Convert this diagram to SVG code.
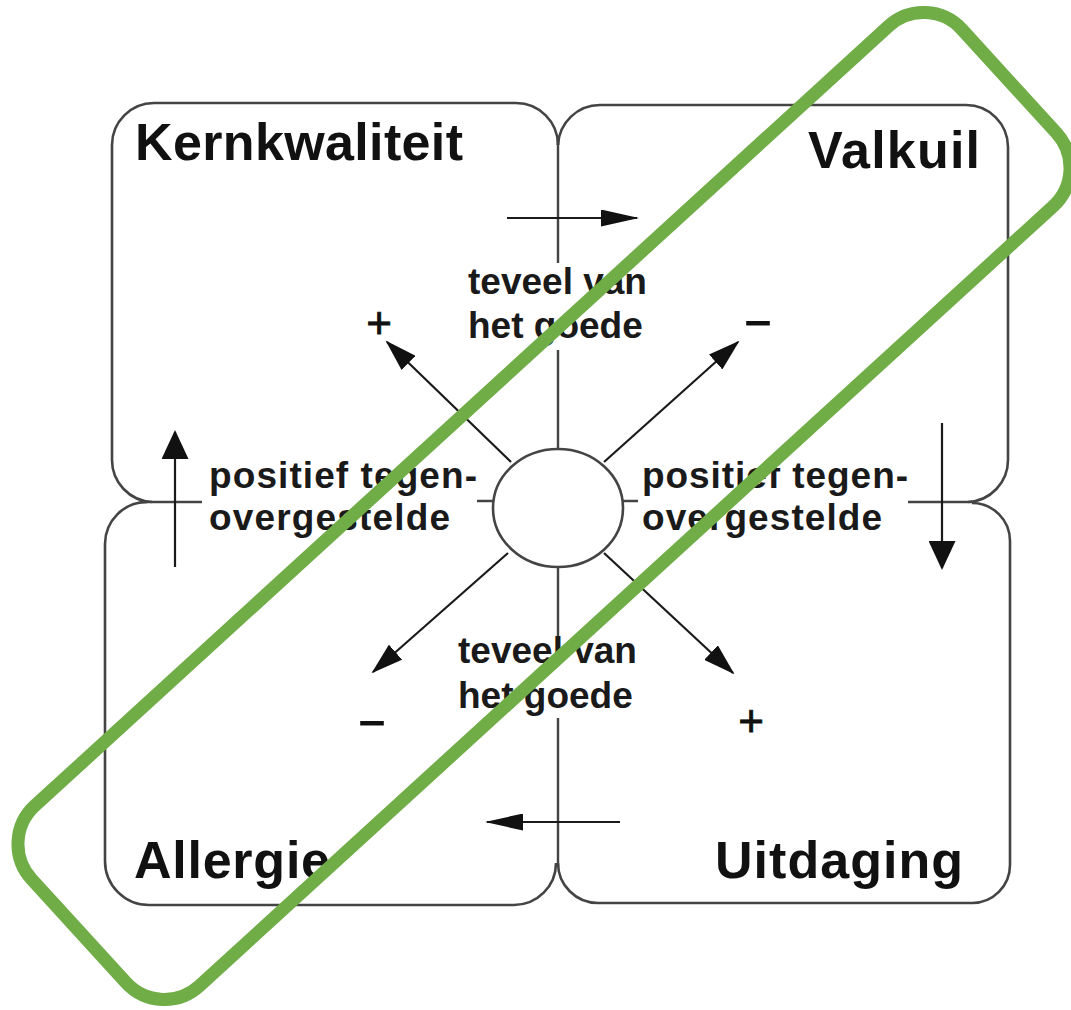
<svg xmlns="http://www.w3.org/2000/svg" width="1071" height="1010" viewBox="0 0 1071 1010">
  <style>
    .box { fill: none; stroke: #444; stroke-width: 2.6; }
    .div { fill: none; stroke: #444; stroke-width: 2.4; }
    .arrow { fill: none; stroke: #1a1a1a; stroke-width: 2.2; }
    .title { font-family: "Liberation Sans", Arial, sans-serif; font-weight: bold; font-size: 52px; fill: #111; }
    .lbl { font-family: "Liberation Sans", Arial, sans-serif; font-weight: bold; font-size: 37px; fill: #1a1a1a; }
    .sign { font-family: "Liberation Sans", Arial, sans-serif; font-size: 44px; fill: #111; text-anchor: middle; stroke: #111; stroke-width: 0.8; }
    .mark { fill: none; stroke: #70AD47; stroke-width: 13; }
  </style>
  <defs>
    <marker id="headH" markerUnits="userSpaceOnUse" viewBox="0 0 38 17" markerWidth="38" markerHeight="17" refX="36" refY="8.5" orient="auto">
      <path d="M0,0 L38,8.5 L0,17 Z" fill="#111"/>
    </marker>
    <marker id="headV" markerUnits="userSpaceOnUse" viewBox="0 0 29 27" markerWidth="29" markerHeight="27" refX="27" refY="13.5" orient="auto">
      <path d="M0,0 L29,13.5 L0,27 Z" fill="#111"/>
    </marker>
    <marker id="headD" markerUnits="userSpaceOnUse" viewBox="0 0 32 20" markerWidth="32" markerHeight="20" refX="30" refY="10" orient="auto">
      <path d="M0,0 L32,10 L0,20 Z" fill="#111"/>
    </marker>
  </defs>

  <rect width="1071" height="1010" fill="#fff"/>

  <!-- quadrant: Kernkwaliteit -->
  <g id="kernkwaliteit">
    <path class="box" d="M152,502 A42 42 0 0 1 112,460 V145 A42 42 0 0 1 154,103 H516 A42 42 0 0 1 558,145"/>
    <text class="title" x="135" y="160" textLength="328">Kernkwaliteit</text>
  </g>

  <!-- quadrant: Valkuil -->
  <g id="valkuil">
    <path class="box" d="M558,145 A42 42 0 0 1 600,105 H966 A42 42 0 0 1 1008,147 V460 A42 42 0 0 1 968,502"/>
    <text class="title" x="808" y="168" textLength="172">Valkuil</text>
  </g>

  <!-- quadrant: Allergie -->
  <g id="allergie">
    <path class="box" d="M147,502 A42 42 0 0 0 105,544 V861 A44 44 0 0 0 149,905 H514 A42 42 0 0 0 556,863"/>
    <text class="title" x="134" y="878" textLength="196">Allergie</text>
  </g>

  <!-- quadrant: Uitdaging -->
  <g id="uitdaging">
    <path class="box" d="M972,503 A38 38 0 0 1 1010,541 V865 A38 38 0 0 1 972,903 H598 A40 40 0 0 1 558,863"/>
    <text class="title" x="715" y="878" textLength="248">Uitdaging</text>
  </g>

  <!-- dividing lines between the quadrants, broken by labels and the centre -->
  <g id="dividers">
    <path class="div" d="M558,140 V263 M558,350 V449 M558,567 V637 M558,718 V866"/>
    <path class="div" d="M140,502 H202 M477,501 H493 M623,501 H638 M908,502 H972"/>
  </g>

  <!-- centre -->
  <g id="center">
    <ellipse cx="558" cy="508" rx="65" ry="59" fill="#fff" stroke="#444" stroke-width="2.6"/>
  </g>

  <!-- arrows -->
  <g id="connectors">
    <path class="arrow" d="M507,218 H637" marker-end="url(#headH)"/>
    <path class="arrow" d="M620,822 H487" marker-end="url(#headH)"/>
    <path class="arrow" d="M175,567 V432" marker-end="url(#headV)"/>
    <path class="arrow" d="M942,423 V568" marker-end="url(#headV)"/>
    <path class="arrow" d="M511,462 L387,342" marker-end="url(#headD)"/>
    <path class="arrow" d="M604,462 L738,342" marker-end="url(#headD)"/>
    <path class="arrow" d="M508,553 L373,672" marker-end="url(#headD)"/>
    <path class="arrow" d="M604,553 L733,673" marker-end="url(#headD)"/>
  </g>

  <!-- labels -->
  <g id="labels">
    <text class="lbl" x="468" y="294">teveel van</text>
    <text class="lbl" x="468" y="338">het goede</text>
    <text class="lbl" x="458" y="663">teveel van</text>
    <text class="lbl" x="458" y="708">het goede</text>
    <text class="lbl" x="209" y="488" textLength="268">positief tegen-</text>
    <text class="lbl" x="209" y="530" textLength="241">overgestelde</text>
    <text class="lbl" x="642" y="488" textLength="266">positief tegen-</text>
    <text class="lbl" x="642" y="530" textLength="240">overgestelde</text>
    <text class="sign" x="379" y="338">+</text>
    <text class="sign" x="758" y="335" textLength="30" lengthAdjust="spacingAndGlyphs">-</text>
    <text class="sign" x="372" y="735" textLength="30" lengthAdjust="spacingAndGlyphs">-</text>
    <text class="sign" x="751" y="736">+</text>
  </g>

  <!-- green highlight band along the diagonal -->
  <g id="highlight">
    <rect class="mark" x="-630" y="-122" width="1260" height="244" rx="52" transform="translate(544,506) rotate(-42.4)"/>
  </g>
</svg>
